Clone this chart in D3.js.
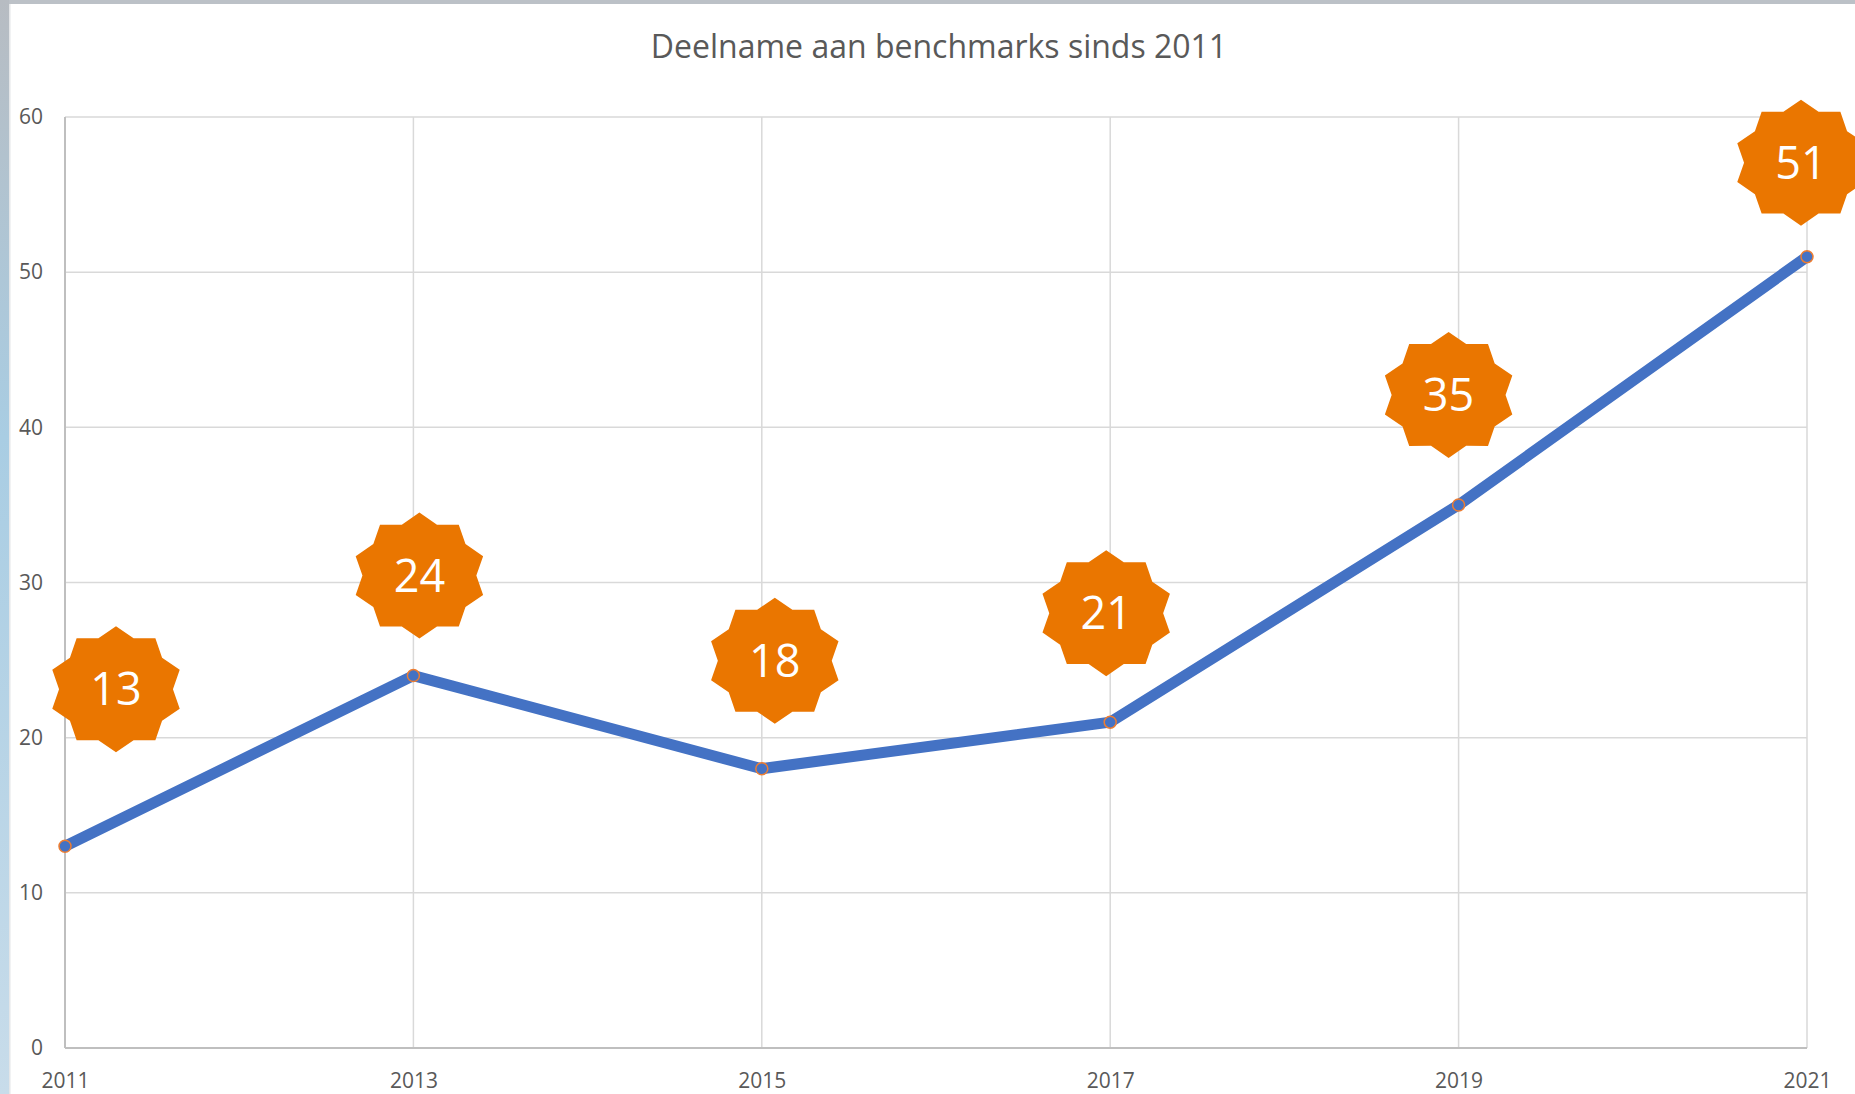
<!DOCTYPE html>
<html><head><meta charset="utf-8">
<script src="https://cdn.jsdelivr.net/npm/d3@7/dist/d3.min.js"></script>
<style>html,body{margin:0;padding:0;background:#fff;overflow:hidden}svg{display:block}</style>
</head><body><div id="chart"></div>
<script>
const title = "Deelname aan benchmarks sinds 2011";
const years = ["2011","2013","2015","2017","2019","2021"];
const values = [13, 24, 18, 21, 35, 51];
const yTicks = [0, 10, 20, 30, 40, 50, 60];
// label nudges (layout only): offset of each badge from its point, in px
const labelDx = [51, 6, 13, -4, -10, -6];
const labelDy = [-157, -100, -108, -109, -110, -94];

const W = 1855, H = 1094;
const m = {left: 65, right: 48, top: 117, bottom: 46};
const svg = d3.select("#chart").append("svg").attr("width", W).attr("height", H);

// screenshot frame edges
const lg = svg.append("defs").append("linearGradient").attr("id","edge").attr("x1",0).attr("x2",0).attr("y1",0).attr("y2",1);
lg.append("stop").attr("offset","0%").attr("stop-color","#b7bcc2");
lg.append("stop").attr("offset","40%").attr("stop-color","#a9cde3");
lg.append("stop").attr("offset","100%").attr("stop-color","#c8dcea");
svg.append("rect").attr("x",0).attr("y",0).attr("width",9).attr("height",H).attr("fill","url(#edge)");
svg.append("rect").attr("x",9).attr("y",0).attr("width",W).attr("height",4).attr("fill","#bcc1c7");
svg.append("rect").attr("x",9).attr("y",4).attr("width",1.5).attr("height",H).attr("fill","#e4e6e8");

const x = d3.scalePoint().domain(years).range([m.left, W - m.right]);
const y = d3.scaleLinear().domain([0, 60]).range([H - m.bottom, m.top]);

const font = "'Open Sans', 'Noto Sans', sans-serif";

// horizontal gridlines
svg.append("g").selectAll("line").data(yTicks).join("line")
  .attr("x1", m.left).attr("x2", W - m.right)
  .attr("y1", d => y(d)).attr("y2", d => y(d))
  .attr("stroke", "#d9d9d9").attr("stroke-width", 1.5);
// vertical gridlines
svg.append("g").selectAll("line").data(years).join("line")
  .attr("x1", d => x(d)).attr("x2", d => x(d))
  .attr("y1", y(0)).attr("y2", y(60))
  .attr("stroke", "#d9d9d9").attr("stroke-width", 1.5);
// axis lines
svg.append("line").attr("x1", m.left).attr("x2", m.left).attr("y1", y(0)).attr("y2", y(60))
  .attr("stroke", "#bfbfbf").attr("stroke-width", 2);
svg.append("line").attr("x1", m.left).attr("x2", W - m.right).attr("y1", y(0)).attr("y2", y(0))
  .attr("stroke", "#bfbfbf").attr("stroke-width", 2);

// axis labels via d3 axes
const yAxis = svg.append("g").attr("transform", `translate(${m.left},0)`)
  .call(d3.axisLeft(y).tickValues(yTicks).tickSize(0).tickPadding(22));
yAxis.select(".domain").remove();
yAxis.selectAll("text").attr("font-family", font).attr("font-size", 21).attr("fill", "#595959");

const xAxis = svg.append("g").attr("transform", `translate(0,${y(0)})`)
  .call(d3.axisBottom(x).tickSize(0).tickPadding(25));
xAxis.select(".domain").remove();
xAxis.selectAll("text").attr("font-family", font).attr("font-size", 21).attr("fill", "#595959");

// title
svg.append("text").attr("x", 939).attr("y", 58).attr("text-anchor", "middle")
  .attr("font-family", font).attr("font-size", 32).attr("fill", "#595959").text(title);

// line
const line = d3.line().x((d, i) => x(years[i])).y(d => y(d));
svg.append("path").datum(values).attr("d", line).attr("fill", "none")
  .attr("stroke", "#4472c4").attr("stroke-width", 11).attr("stroke-linejoin", "round");

// markers
svg.append("g").selectAll("circle").data(values).join("circle")
  .attr("cx", (d, i) => x(years[i])).attr("cy", d => y(d)).attr("r", 6)
  .attr("fill", "#4472c4").attr("stroke", "#ed7d31").attr("stroke-width", 1.5);

// 10-point star badges
function starPath(rx, ry, ratio) {
  const pts = [];
  for (let k = 0; k < 20; k++) {
    const a = -Math.PI / 2 + k * Math.PI / 10;
    const r = k % 2 === 0 ? 1 : ratio;
    pts.push([Math.cos(a) * rx * r, Math.sin(a) * ry * r]);
  }
  return d3.line()(pts) + "Z";
}
const star = starPath(67, 63, 0.85);
const badges = svg.append("g").selectAll("g").data(values).join("g")
  .attr("transform", (d, i) => `translate(${x(years[i]) + labelDx[i]},${y(d) + labelDy[i]})`);
badges.append("path").attr("d", star).attr("fill", "#ea7600");
badges.append("text").attr("text-anchor", "middle").attr("dy", "0.36em")
  .attr("font-family", font).attr("font-size", 45).attr("fill", "#fff").text(d => d);
</script></body></html>
